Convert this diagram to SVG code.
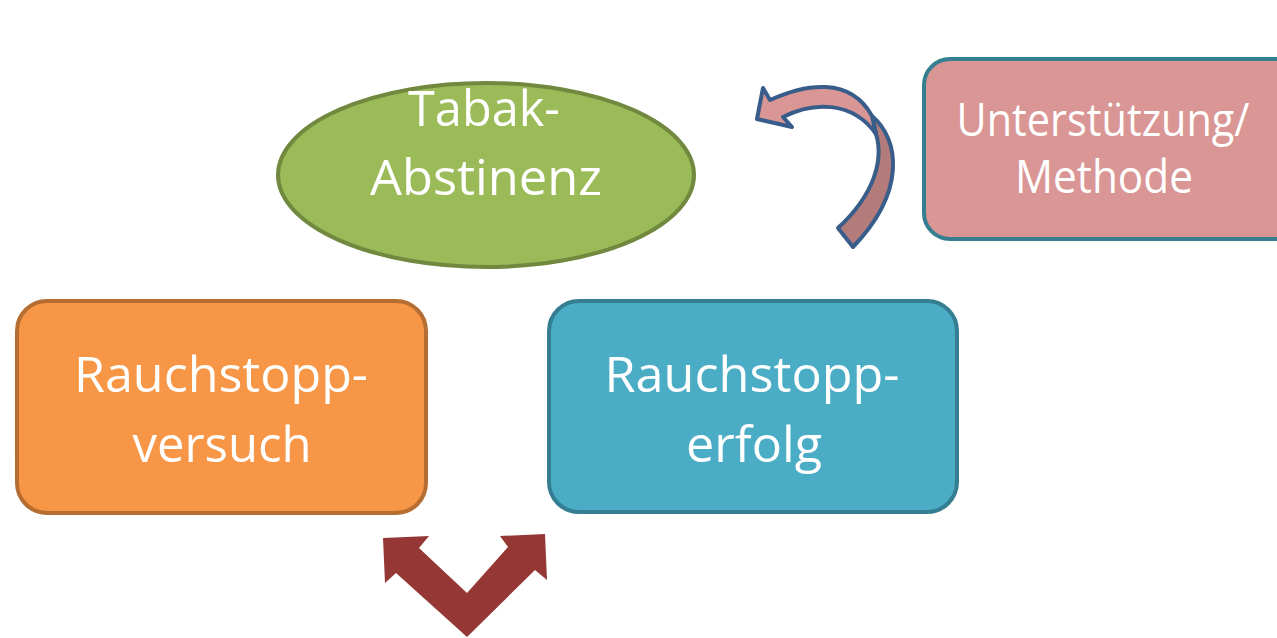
<svg xmlns="http://www.w3.org/2000/svg" width="1277" height="638" viewBox="0 0 1277 638">
<style>
.t{font-family:"Open Sans","Noto Sans",sans-serif;fill:#fff;text-anchor:middle;font-size:50px}
.s{font-size:46px}
</style>
<rect width="1277" height="638" fill="#fff"/>
<g id="tabak">
<ellipse cx="486" cy="175" rx="208" ry="92" fill="#9BBB59" stroke="#71893F" stroke-width="4"/>
<text class="t" x="484" y="126" textLength="152" lengthAdjust="spacingAndGlyphs">Tabak-</text>
<text class="t" x="486" y="195" textLength="232" lengthAdjust="spacingAndGlyphs">Abstinenz</text>
</g>
<g id="versuch">
<rect x="17" y="301" width="409" height="212" rx="30" fill="#F79646" stroke="#B66D31" stroke-width="4"/>
<text class="t" x="221" y="392" textLength="294" lengthAdjust="spacingAndGlyphs">Rauchstopp-</text>
<text class="t" x="222" y="462" textLength="179" lengthAdjust="spacingAndGlyphs">versuch</text>
</g>
<g id="erfolg">
<rect x="549" y="301" width="408" height="211" rx="30" fill="#4BACC6" stroke="#357D91" stroke-width="4"/>
<text class="t" x="752" y="392" textLength="295" lengthAdjust="spacingAndGlyphs">Rauchstopp-</text>
<text class="t" x="754" y="462" textLength="136" lengthAdjust="spacingAndGlyphs">erfolg</text>
</g>
<g id="methode">
<rect x="924" y="59" width="380" height="180" rx="26" fill="#D99694" stroke="#357D91" stroke-width="4"/>
<text class="t s" x="1103" y="136" textLength="293" lengthAdjust="spacingAndGlyphs">Unterstützung/</text>
<text class="t s" x="1104" y="193" textLength="178" lengthAdjust="spacingAndGlyphs">Methode</text>
</g>
<g id="connectors">
<path d="M872,116 C900,140 906,192 853,247 L838,228 C874,195 884,160 876,134 Z" fill="#B37C7A" stroke="#385D8A" stroke-width="4" stroke-linejoin="round"/>
<path d="M770,100 C805,84 850,76 872,116 L876,134 C852,100 812,102 783,117 L792,127 L757,119 L763,88 Z" fill="#D99694" stroke="#385D8A" stroke-width="4" stroke-linejoin="round"/>
<path d="M383,538 L429,536 L419,548 L467,593 L508,547 L500,536 L545,534 L547,580 L535,570 L467,637 L396,573 L385,583 Z" fill="#953735"/>
</g>
</svg>
